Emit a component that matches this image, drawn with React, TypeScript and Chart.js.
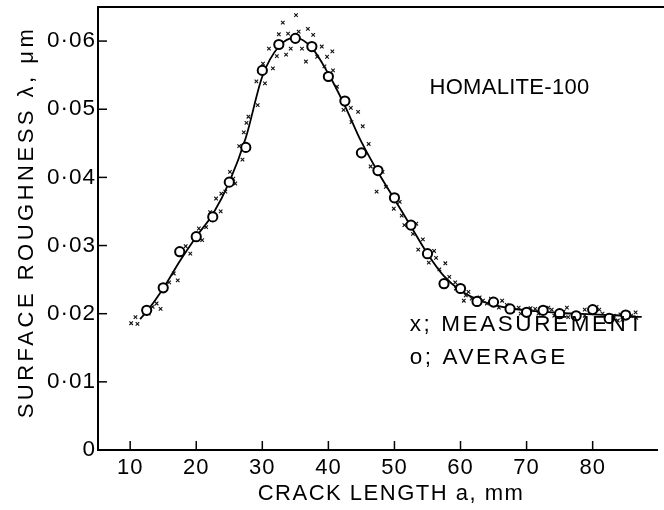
import React, { useEffect, useRef } from 'react';
import { Chart, registerables } from 'chart.js';

Chart.register(...registerables);

// Averages (open circles)
const AVG_X = [12.5, 15, 17.5, 20, 22.5, 25, 27.5, 30, 32.5, 35, 37.5, 40, 42.5, 45, 47.5, 50, 52.5, 55, 57.5, 60, 62.5, 65, 67.5, 70, 72.5, 75, 77.5, 80, 82.5, 85];
const AVG_Y = [0.0205, 0.0238, 0.0291, 0.0313, 0.0342, 0.0393, 0.0444, 0.0557, 0.0595, 0.0604, 0.0592, 0.0548, 0.0512, 0.0436, 0.041, 0.037, 0.033, 0.0288, 0.0244, 0.0237, 0.0218, 0.0217, 0.0207, 0.0202, 0.0205, 0.02, 0.0197, 0.0206, 0.0193, 0.0198];

// Measurements (x marks)
const MEAS_X = [10.15, 10.8, 11.1, 12.1, 12.8, 13.4, 14.0, 14.6, 15.9, 16.6, 17.2, 18.4, 19.1, 20.4, 20.9, 21.5, 22.1, 23.0, 23.7, 23.8, 24.4, 25.1, 25.6, 25.9, 26.5, 27.0, 27.2, 27.6, 27.9, 29.1, 29.3, 30.1, 30.4, 31.0, 31.6, 32.2, 32.5, 33.1, 33.6, 33.9, 34.3, 35.1, 35.5, 36.0, 36.6, 36.9, 37.7, 38.3, 39.0, 39.4, 39.8, 40.6, 40.7, 41.3, 42.0, 42.3, 43.4, 43.5, 44.5, 45.2, 46.1, 46.4, 47.3, 48.2, 48.7, 49.6, 49.9, 50.8, 51.1, 51.5, 52.8, 53.3, 53.6, 54.3, 55.2, 56.0, 56.3, 56.8, 57.7, 58.3, 59.2, 59.3, 60.5, 60.8, 61.2, 61.7, 62.9, 63.4, 64.0, 64.6, 65.8, 66.3, 67.0, 67.9, 68.8, 69.1, 70.6, 71.3, 71.8, 72.2, 73.3, 73.8, 74.2, 75.6, 76.1, 76.3, 77.2, 78.8, 78.8, 79.6, 80.6, 81.0, 81.5, 82.3, 83.2, 83.8, 84.2, 84.5, 85.4, 85.8, 86.5, 86.6];
const MEAS_Y = [0.0186, 0.0195, 0.0185, 0.0202, 0.02, 0.021, 0.0215, 0.0207, 0.0246, 0.0259, 0.0249, 0.0299, 0.0288, 0.0325, 0.0308, 0.0327, 0.0349, 0.0369, 0.035, 0.0376, 0.0379, 0.0408, 0.0398, 0.0391, 0.0446, 0.0426, 0.0466, 0.048, 0.0489, 0.0541, 0.0506, 0.0567, 0.0538, 0.0589, 0.056, 0.0578, 0.061, 0.0627, 0.058, 0.0611, 0.0589, 0.0638, 0.0614, 0.0589, 0.057, 0.0618, 0.0609, 0.0577, 0.0592, 0.0563, 0.0577, 0.0585, 0.0557, 0.0533, 0.0516, 0.0499, 0.0502, 0.0481, 0.0496, 0.0475, 0.0449, 0.0416, 0.0379, 0.0408, 0.0386, 0.0374, 0.0354, 0.0364, 0.0344, 0.033, 0.0317, 0.0332, 0.0294, 0.0309, 0.0275, 0.0292, 0.0282, 0.0265, 0.0274, 0.0254, 0.0246, 0.0237, 0.0219, 0.0227, 0.0232, 0.0222, 0.0224, 0.0219, 0.0215, 0.0222, 0.0209, 0.0219, 0.0213, 0.0204, 0.0209, 0.02, 0.0208, 0.0207, 0.02, 0.0201, 0.0209, 0.0206, 0.0197, 0.0203, 0.0209, 0.0195, 0.0198, 0.0206, 0.0197, 0.0201, 0.021, 0.0206, 0.02, 0.019, 0.0197, 0.019, 0.0199, 0.0191, 0.0201, 0.0197, 0.0202, 0.0194];

// Fitted curve
const FIT_X = [11.5, 12.5, 15, 17.5, 20, 22.5, 25, 27.5, 30, 32.5, 35, 37.5, 40, 42.5, 45, 47.5, 50, 52.5, 55, 57.5, 60, 62.5, 65, 67.5, 70, 72.5, 75, 77.5, 80, 82.5, 85, 86.5];
const FIT_Y = [0.0192, 0.0203, 0.0237, 0.0277, 0.0313, 0.0346, 0.0393, 0.0458, 0.0548, 0.0592, 0.0605, 0.059, 0.0552, 0.0505, 0.0452, 0.0408, 0.0368, 0.0328, 0.0288, 0.0255, 0.0234, 0.0221, 0.0213, 0.0208, 0.0205, 0.0203, 0.0201, 0.02, 0.0199, 0.0198, 0.0197, 0.0196];

const X_TICKS = [10, 20, 30, 40, 50, 60, 70, 80];
const Y_TICKS = [0, 0.01, 0.02, 0.03, 0.04, 0.05, 0.06];

const X_TITLE = 'CRACK LENGTH a, mm';
const Y_TITLE = 'SURFACE ROUGHNESS λ, μm';
const MATERIAL = 'HOMALITE-100';
const LEGEND_MEAS = 'x; MEASUREMENT';
const LEGEND_AVG = 'o; AVERAGE';

const FONT = '"Liberation Sans", Arial, sans-serif';

const zip = (xs: number[], ys: number[]) => xs.map((x, i) => ({ x, y: ys[i] }));

const decorPlugin = {
  id: 'decor',
  beforeDraw(chart: any) {
    chart.ctx.letterSpacing = '1px';
  },
  afterDraw(chart: any) {
    const { ctx, chartArea, scales } = chart;
    const xs = scales.x;
    const ys = scales.y;
    ctx.save();
    ctx.strokeStyle = '#000';
    ctx.lineWidth = 1.5;
    X_TICKS.forEach((v) => {
      const px = xs.getPixelForValue(v);
      ctx.beginPath();
      ctx.moveTo(px, chartArea.bottom);
      ctx.lineTo(px, chartArea.bottom - 9);
      ctx.stroke();
    });
    Y_TICKS.forEach((v) => {
      if (v === 0) return;
      const py = ys.getPixelForValue(v);
      ctx.beginPath();
      ctx.moveTo(chartArea.left, py);
      ctx.lineTo(chartArea.left + 9, py);
      ctx.stroke();
    });
    ctx.lineWidth = 2;
    ctx.beginPath();
    ctx.moveTo(chartArea.left - 1, chartArea.top);
    ctx.lineTo(chart.width, chartArea.top);
    ctx.stroke();

    ctx.fillStyle = '#000';
    ctx.font = `22px ${FONT}`;
    ctx.textBaseline = 'middle';

    // axis titles
    ctx.textAlign = 'center';
    ctx.letterSpacing = '1.5px';
    ctx.fillText(X_TITLE, 391, 494);
    ctx.save();
    ctx.translate(27, 222);
    ctx.rotate(-Math.PI / 2);
    ctx.letterSpacing = '3.5px';
    ctx.fillText(Y_TITLE, 0, 0);
    ctx.restore();

    ctx.textAlign = 'left';
    ctx.font = `22px ${FONT}`;
    ctx.letterSpacing = '0.3px';
    ctx.fillText(MATERIAL, xs.getPixelForValue(55.3), ys.getPixelForValue(0.0531));
    ctx.font = `22.5px ${FONT}`;
    ctx.letterSpacing = '2.6px';
    ctx.fillText(LEGEND_MEAS, xs.getPixelForValue(52.3), ys.getPixelForValue(0.0183));
    ctx.fillText(LEGEND_AVG, xs.getPixelForValue(52.3), ys.getPixelForValue(0.0135));
    ctx.restore();
  },
};

export default function App() {
  const ref = useRef<HTMLCanvasElement | null>(null);
  useEffect(() => {
    if (!ref.current) return;
    const chart = new Chart(ref.current, {
      type: 'scatter',
      data: {
        datasets: [
          {
            label: 'Average',
            data: zip(AVG_X, AVG_Y),
            pointStyle: 'circle',
            pointRadius: 4.6,
            pointBorderWidth: 2,
            pointBackgroundColor: '#fff',
            pointBorderColor: '#000',
            showLine: false,
          },
          {
            label: 'Measurement',
            data: zip(MEAS_X, MEAS_Y),
            pointStyle: 'crossRot',
            pointRadius: 2.5,
            pointBorderWidth: 1.1,
            pointBorderColor: '#111',
            showLine: false,
          },
          {
            label: 'Fit',
            data: zip(FIT_X, FIT_Y),
            showLine: true,
            pointRadius: 0,
            borderColor: '#000',
            borderWidth: 1.8,
            tension: 0.4,
            cubicInterpolationMode: 'monotone',
          },
        ],
      },
      options: {
        animation: false,
        responsive: false,
        devicePixelRatio: 1,
        layout: { padding: { top: 7, left: 0, right: 0, bottom: 0 } },
        plugins: { legend: { display: false }, tooltip: { enabled: false } },
        scales: {
          x: {
            type: 'linear',
            position: 'bottom',
            min: 5.13,
            max: 89.8,
            grid: { display: false, drawTicks: false, tickLength: 0 },
            border: { display: true, color: '#000', width: 2 },
            ticks: {
              color: '#000',
              font: { family: FONT, size: 22 },
              padding: 5,
              maxRotation: 0,
              autoSkip: false,
              callback: (v: any) => String(v),
            },
            afterBuildTicks: (s: any) => {
              s.ticks = X_TICKS.map((v) => ({ value: v }));
            },
            afterFit: (s: any) => {
              s.height = 60;
              s.paddingLeft = 0;
              s.paddingRight = 0;
            },
            title: { display: false },
          },
          y: {
            type: 'linear',
            min: 0,
            max: 0.065,
            grid: { display: false, drawTicks: false, tickLength: 0 },
            border: { display: true, color: '#000', width: 2 },
            ticks: {
              color: '#000',
              font: { family: FONT, size: 22.5 },
              padding: 2,
              callback: (v: any) => (v === 0 ? '0' : Number(v).toFixed(2).replace('.', '·')),
            },
            afterBuildTicks: (s: any) => {
              s.ticks = Y_TICKS.map((v) => ({ value: v }));
            },
            afterFit: (s: any) => {
              s.width = 98;
              s.paddingTop = 0;
              s.paddingBottom = 0;
            },
            title: { display: false },
          },
        },
      },
      plugins: [decorPlugin],
    } as any);
    return () => chart.destroy();
  }, []);
  return (
    <div style={{ position: 'absolute', left: 0, top: 0, width: 664, height: 510, background: '#fff' }}>
      <canvas ref={ref} width={664} height={510} style={{ width: 664, height: 510, display: 'block' }} />
    </div>
  );
}
